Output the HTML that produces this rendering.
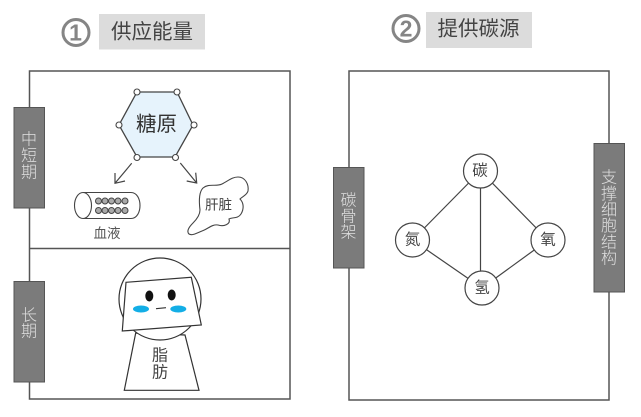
<!DOCTYPE html>
<html><head><meta charset="utf-8">
<style>
html,body{margin:0;padding:0;background:#fff;width:641px;height:417px;overflow:hidden}
svg{display:block;filter:blur(0.3px)}
text{font-family:"Liberation Sans","Noto Sans CJK SC",sans-serif;text-anchor:middle;dominant-baseline:central}
</style></head><body>
<svg width="641" height="417" viewBox="0 0 641 417" xmlns="http://www.w3.org/2000/svg">
<rect x="99" y="14" width="106" height="35.500" fill="#dcdcdc"/>
<rect x="426" y="12" width="106" height="36" fill="#dcdcdc"/>
<circle cx="76" cy="32.500" r="13" fill="none" stroke="#858585" stroke-width="3"/>
<text x="75.500" y="32.500" font-size="23" font-weight="700" fill="#858585">1</text>
<circle cx="406" cy="28.500" r="13" fill="none" stroke="#858585" stroke-width="3"/>
<text x="406" y="28.500" font-size="23" font-weight="700" fill="#858585">2</text>
<text x="152" y="32" font-size="20.500" fill="#444">供应能量</text>
<text x="478.500" y="29" font-size="20.500" fill="#444">提供碳源</text>

<rect x="29.500" y="71" width="260.500" height="328" fill="none" stroke="#555" stroke-width="1.500"/>
<line x1="29.500" y1="248.500" x2="290" y2="248.500" stroke="#555" stroke-width="1.500"/>
<rect x="14" y="107.500" width="30.500" height="100.500" fill="#7b7b7b" stroke="#555" stroke-width="1"/>
<rect x="14" y="281.500" width="30.500" height="100.500" fill="#7b7b7b" stroke="#555" stroke-width="1"/>
<g font-size="16" fill="#e0e0e0" font-weight="300">
<text x="29" y="140">中</text><text x="29" y="156.500">短</text><text x="29" y="173">期</text>
<text x="29" y="316">长</text><text x="29" y="332">期</text>
</g>

<polygon points="137,92 177,92 193,125 175,157 137,157 119,125" fill="#e6f3fc" stroke="#444" stroke-width="1.300"/>
<g fill="#fff" stroke="#444" stroke-width="1.100">
<circle cx="137" cy="92" r="3"/><circle cx="177" cy="92" r="3"/><circle cx="194" cy="125" r="3"/>
<circle cx="175.500" cy="157.500" r="3"/><circle cx="137" cy="157.500" r="3"/><circle cx="119" cy="125" r="3"/>
</g>
<text x="156.500" y="124.500" font-size="20.500" fill="#333">糖原</text>
<g fill="none" stroke="#444" stroke-width="1.200">
<path d="M131.700 163.300L115 183.300M115 173L115 183.300L125 181"/>
<path d="M180.300 163L196.700 183M186.700 181L196.700 183L195.700 172.700"/>
</g>
<path d="M83 192.500H131C137 192.500 140 199 140 205.500C140 212 137 218.500 131 218.500H83" fill="#fff" stroke="#444" stroke-width="1.100"/>
<ellipse cx="83" cy="205.500" rx="8.500" ry="13" fill="#fff" stroke="#444" stroke-width="1.100"/>
<g fill="#aaa" stroke="#444" stroke-width="1">
<circle cx="98.500" cy="201" r="3"/><circle cx="105" cy="201" r="3"/><circle cx="111.500" cy="201" r="3"/><circle cx="118" cy="201" r="3"/><circle cx="125" cy="201" r="3"/>
<circle cx="98.500" cy="210.500" r="3"/><circle cx="105" cy="210.500" r="3"/><circle cx="111.500" cy="210.500" r="3"/><circle cx="118" cy="210.500" r="3"/><circle cx="125" cy="210.500" r="3"/>
</g>
<text x="107" y="233.500" font-size="13.500" fill="#555">血液</text>
<path d="M200 210C199 202 199 192 203 188C209 183 216 187 222 184C228 181 232 177 238 177C245 177 249 184 248 191C247 195 243 196 240 199C244 203 244 209 241 214C238 219 232 217 229 219C231 224 224 227 218 225C212 224 208 229 202 231C197 233 192 236 189 234C186 231 190 226 193 223C197 219 200 215 200 210Z" fill="#fff" stroke="#444" stroke-width="1.100"/>
<text x="218.500" y="205" font-size="13.500" fill="#444">肝脏</text>

<polygon points="135.700,333 185,335 199,390.300 124.300,390.300" fill="#fff" stroke="#333" stroke-width="1.200"/>
<circle cx="160" cy="299" r="41" fill="#fff" stroke="#333" stroke-width="1.200"/>
<polygon points="126,282.300 191.300,277.300 201.300,325 122.300,331" fill="#fff" stroke="#333" stroke-width="1.200"/>
<ellipse cx="149.300" cy="296" rx="4" ry="5.500" fill="#111"/>
<ellipse cx="171.700" cy="295" rx="4" ry="5.500" fill="#111"/>
<ellipse cx="141" cy="309" rx="8" ry="3.500" fill="#13aee6"/>
<ellipse cx="178.300" cy="309" rx="8" ry="3.500" fill="#13aee6"/>
<line x1="156" y1="308.700" x2="166" y2="307.700" stroke="#333" stroke-width="1.200"/>
<text x="160" y="356" font-size="16" fill="#444">脂</text>
<text x="160" y="373" font-size="16" fill="#444">肪</text>

<rect x="349" y="71" width="260" height="329" fill="none" stroke="#555" stroke-width="1.500"/>
<rect x="333.500" y="167.500" width="30.500" height="100.500" fill="#7b7b7b" stroke="#555" stroke-width="1"/>
<rect x="594" y="143.500" width="30.500" height="148.500" fill="#7b7b7b" stroke="#555" stroke-width="1"/>
<g font-size="16" fill="#e0e0e0" font-weight="300">
<text x="348.500" y="201">碳</text><text x="348.500" y="217">骨</text><text x="348.500" y="233">架</text>
<text x="609" y="178">支</text><text x="609" y="194.500">撑</text><text x="609" y="210.500">细</text><text x="609" y="226.500">胞</text><text x="609" y="243">结</text><text x="609" y="259">构</text>
</g>
<g stroke="#444" stroke-width="1.200">
<line x1="480.500" y1="171" x2="412.500" y2="240"/>
<line x1="480.500" y1="171" x2="548" y2="240"/>
<line x1="480.500" y1="171" x2="480.500" y2="288"/>
<line x1="412.500" y1="240" x2="482" y2="288"/>
<line x1="548" y1="240" x2="482" y2="288"/>
</g>
<g fill="#fff" stroke="#444" stroke-width="1.200">
<circle cx="480.500" cy="171" r="17"/><circle cx="412.500" cy="240" r="17"/><circle cx="548" cy="240" r="17"/><circle cx="482" cy="288" r="17"/>
</g>
<g font-size="15.500" fill="#444">
<text x="480" y="171">碳</text><text x="412.500" y="240">氮</text><text x="548" y="240">氧</text><text x="482" y="288">氢</text>
</g>
</svg>
</body></html>
